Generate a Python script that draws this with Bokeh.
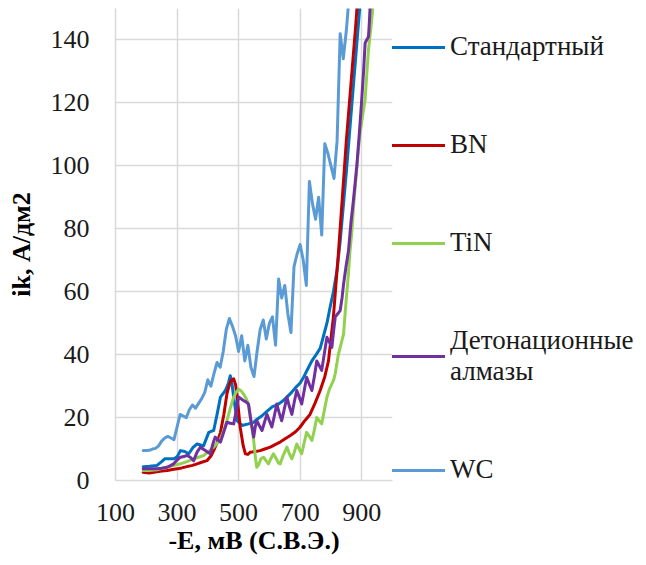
from bokeh.plotting import figure
from bokeh.models import Legend, LegendItem, FixedTicker, Range1d
from bokeh.embed import file_html
from bokeh.resources import INLINE

# ---- data ----
std_x = [190, 210, 235, 250, 260, 290, 300, 311, 325, 338, 352, 365, 386, 403, 419, 430, 441, 457, 467, 473, 478, 484, 495, 511, 532, 549, 560, 575, 592, 610, 625, 640, 657, 672, 685, 700, 712, 725, 738, 752, 765, 776, 787, 797, 808, 820, 830, 840, 850, 860, 870, 880, 890, 895]
std_y = [4.4, 4.5, 4.8, 6, 6.9, 6.9, 7.5, 9.5, 9.2, 8.5, 10.5, 11.6, 11, 15.3, 15.9, 21, 26.5, 28.6, 31, 33.3, 31, 26.5, 19, 17.5, 18, 18.5, 19.5, 20.5, 22, 23.5, 24, 25, 26.5, 28, 29.5, 31, 33, 35.5, 38, 40, 42, 46, 50, 55, 60, 67, 76, 87, 98, 110, 122, 134, 146, 152]

bn_x = [190, 210, 224, 250, 268, 285, 300, 315, 332, 350, 365, 380, 397, 410, 419, 430, 441, 452, 462, 470, 475, 484, 490, 495, 505, 515, 522, 530, 538, 555, 570, 585, 603, 620, 635, 650, 668, 685, 700, 715, 732, 748, 765, 780, 792, 800, 808, 816, 824, 832, 840, 850, 860, 870, 880, 886]
bn_y = [2.6, 2.4, 2.6, 3, 3.2, 3.5, 3.7, 4, 4.4, 4.8, 5.3, 5.8, 6.3, 7.8, 9.5, 12, 15.3, 21, 27.5, 30.5, 31.7, 32.3, 30.5, 27, 17, 11, 8.5, 8.3, 9, 9.2, 9.5, 10, 10.6, 11.5, 12.2, 13.2, 14.3, 15.5, 17, 19, 21, 24.5, 28.6, 33, 38, 45, 52, 62, 72, 83, 94, 108, 120, 132, 144, 152]

tin_x = [190, 210, 235, 250, 268, 290, 311, 332, 354, 370, 386, 400, 419, 430, 441, 452, 462, 473, 484, 492, 500, 508, 516, 525, 532, 540, 549, 555, 559, 565, 573, 581, 589, 597, 605, 613, 622, 630, 635, 645, 657, 665, 673, 681, 689, 697, 705, 713, 721, 730, 738, 746, 754, 762, 770, 778, 787, 795, 803, 809, 814, 819, 824, 832, 841, 846, 851, 857, 862, 867, 875, 884, 889, 894, 900, 906, 911, 917, 922, 930, 938]
tin_y = [3.2, 3.2, 3.4, 3.8, 4.2, 4.8, 5.3, 6, 6.9, 7.4, 7.9, 9, 10.6, 11.8, 13.2, 16, 19, 23, 26.5, 28, 29, 28.5, 27.5, 26, 24.3, 19, 12.7, 7, 4.2, 5, 7, 7.4, 6.3, 5.3, 7, 8.5, 7, 5.5, 5.3, 8, 10.6, 8.5, 6.9, 9, 11.6, 10, 8.5, 12, 15.3, 14, 12.7, 16, 20, 19, 18, 22, 26.5, 29, 30.7, 32, 34, 37, 40, 43, 46.5, 53, 59, 66, 73, 78, 89, 99, 105, 110, 114, 118, 121, 130, 137, 144, 152]

da_x = [190, 210, 235, 250, 268, 280, 289, 300, 311, 322, 332, 343, 354, 365, 376, 384, 392, 400, 408, 416, 424, 432, 441, 452, 462, 473, 484, 492, 500, 508, 516, 524, 532, 540, 549, 554, 559, 567, 576, 584, 592, 600, 608, 616, 624, 632, 640, 648, 657, 665, 673, 681, 689, 697, 705, 713, 721, 730, 738, 746, 754, 762, 770, 778, 787, 795, 803, 808, 814, 822, 830, 836, 841, 849, 857, 865, 873, 879, 884, 892, 900, 906, 911, 916, 922, 925, 928]
da_y = [3.7, 3.7, 3.7, 3.9, 4.2, 4.8, 5.3, 6.5, 7.4, 7.6, 8, 7.4, 6.3, 9, 10.6, 10, 9.5, 9, 8.5, 11.5, 13.8, 13, 12.2, 15.5, 18.5, 18.2, 18, 22, 26.5, 26, 25.4, 25, 24.3, 19, 13.8, 17, 19, 17.5, 15.9, 18.5, 21, 19, 17, 20.5, 24.3, 21.5, 19, 22.5, 26.5, 23.5, 21, 25, 28.6, 26.5, 24.3, 28.5, 32.8, 30.5, 28.6, 33, 38, 36.5, 35, 40, 45.5, 44, 42.3, 47, 52, 53, 54, 58, 62.4, 68, 73, 82, 89, 95, 100, 110, 121, 130, 139, 140, 141, 146, 152]

wc_x = [190, 200, 210, 220, 230, 240, 250, 260, 270, 280, 290, 300, 310, 320, 330, 340, 350, 360, 370, 380, 390, 400, 410, 420, 430, 440, 450, 460, 470, 480, 490, 500, 510, 520, 530, 540, 550, 560, 570, 580, 590, 600, 610, 620, 630, 640, 650, 660, 670, 680, 690, 700, 710, 720, 730, 740, 750, 760, 770, 780, 790, 800, 810, 820, 825, 830, 840, 850, 860]
wc_y = [9.5, 9.5, 9.6, 10, 10.2, 11, 12.5, 13.5, 14, 13.5, 13, 17, 21, 20.5, 20, 22.5, 24, 23, 24.5, 26, 28, 32, 30, 34, 37.5, 36, 41, 48, 51.5, 49, 46, 41, 46, 38, 43, 36, 33, 41, 48, 51, 45, 50, 52, 43, 64, 58, 62, 53, 47, 68, 72, 75, 70, 62, 95, 88, 83, 90, 78, 107, 104, 100, 96, 108, 125, 142, 134, 143, 155]

names = ["Стандартный", "BN", "TiN", "Детонационные\nалмазы", "WC"]
colors = ["#0070C0", "#C00000", "#92D050", "#7030A0", "#5B9BD5"]
x_ticks = [100, 300, 500, 700, 900]
y_ticks = [0, 20, 40, 60, 80, 100, 120, 140]

FONT = "Liberation Serif"

p = figure(width=646, height=565, output_backend="svg", toolbar_location=None,
           x_range=Range1d(100, 1000), y_range=Range1d(0, 150),
           min_border_left=115, min_border_right=254, min_border_top=8, min_border_bottom=5,
           frame_width=277, frame_height=472)
p.outline_line_color = None

renderers = []
for xs, ys, c in zip([std_x, bn_x, tin_x, da_x, wc_x], [std_y, bn_y, tin_y, da_y, wc_y], colors):
    r = p.line(xs, ys, line_color=c, line_width=3, line_join="round", line_cap="round")
    renderers.append(r)

for ax in (p.xaxis[0], p.yaxis[0]):
    ax.axis_line_color = "#D9D9D9"
    ax.axis_line_width = 1.5
    ax.major_tick_line_color = None
    ax.minor_tick_line_color = None
    ax.major_label_text_font = FONT
    ax.major_label_text_font_size = "26px"
    ax.major_label_text_color = "#1a1a1a"
    ax.axis_label_text_font = FONT
    ax.axis_label_text_font_size = "26px"
    ax.axis_label_text_font_style = "bold"
    ax.axis_label_text_color = "#000000"

p.xaxis.ticker = FixedTicker(ticks=x_ticks)
p.yaxis.ticker = FixedTicker(ticks=y_ticks)
p.xaxis.major_label_standoff = 17
p.yaxis.major_label_standoff = 20
p.xaxis.axis_label = "-E, мВ (С.В.Э.)"
p.yaxis.axis_label = "ik, А/дм2"
p.xaxis.axis_label_standoff = 2
p.yaxis.axis_label_standoff = 12

p.grid.grid_line_color = "#D9D9D9"
p.grid.grid_line_width = 1.5

legend = Legend(items=[LegendItem(label=n, renderers=[r]) for n, r in zip(names, renderers)],
                location=(0, -5), orientation="vertical",
                label_text_font=FONT, label_text_font_size="27px",
                label_text_color="#1a1a1a", label_text_line_height=1.1,
                glyph_width=53, glyph_height=20, label_height=20,
                label_standoff=5, spacing=67, padding=0, margin=0,
                border_line_alpha=0, background_fill_alpha=0)
p.add_layout(legend, "right")

open("out.html", "w").write(file_html(p, INLINE))
